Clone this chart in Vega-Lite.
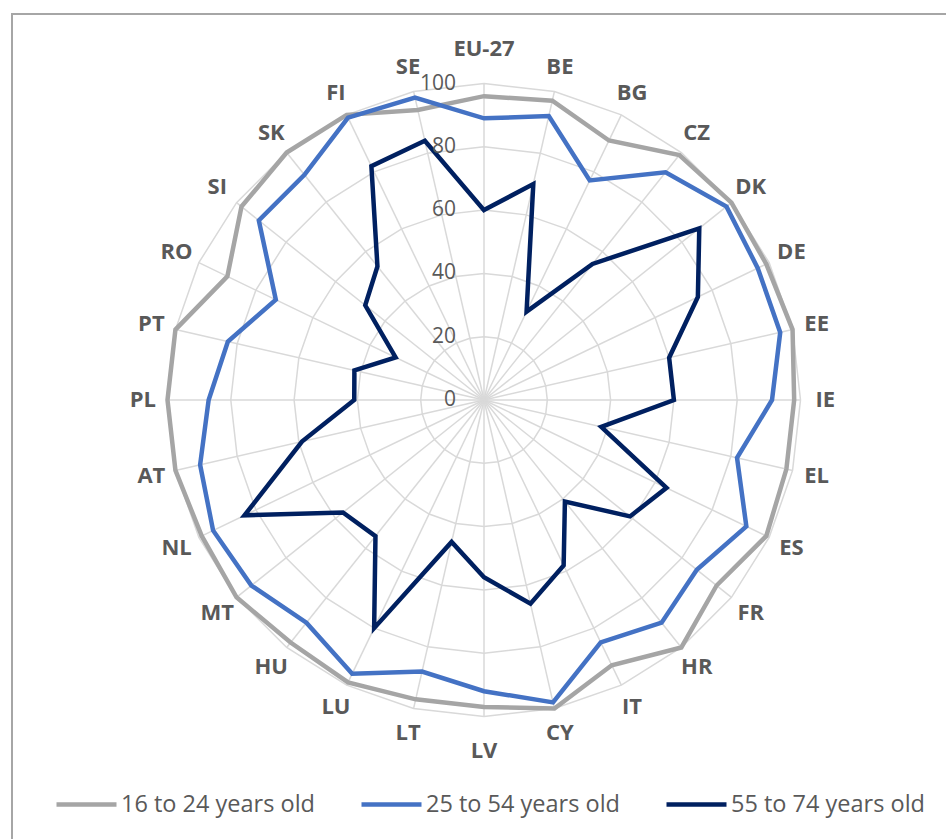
{
  "$schema": "https://vega.github.io/schema/vega-lite/v6.json",
  "width": 944,
  "height": 835,
  "autosize": {"type": "none"},
  "padding": {"left": 12, "top": 14, "right": -10, "bottom": -10},
  "background": "white",
  "config": {
    "view": {"stroke": "#a6a6a6", "strokeWidth": 2},
    "text": {"font": "Open Sans"}
  },
  "datasets": {
    "vals": [
      {"country": "EU-27", "order": 0, "age": "16 to 24 years old", "pct": 96},
      {"country": "BE", "order": 1, "age": "16 to 24 years old", "pct": 97},
      {"country": "BG", "order": 2, "age": "16 to 24 years old", "pct": 91},
      {"country": "CZ", "order": 3, "age": "16 to 24 years old", "pct": 99},
      {"country": "DK", "order": 4, "age": "16 to 24 years old", "pct": 100},
      {"country": "DE", "order": 5, "age": "16 to 24 years old", "pct": 99},
      {"country": "EE", "order": 6, "age": "16 to 24 years old", "pct": 100},
      {"country": "IE", "order": 7, "age": "16 to 24 years old", "pct": 98},
      {"country": "EL", "order": 8, "age": "16 to 24 years old", "pct": 98},
      {"country": "ES", "order": 9, "age": "16 to 24 years old", "pct": 99},
      {"country": "FR", "order": 10, "age": "16 to 24 years old", "pct": 94},
      {"country": "HR", "order": 11, "age": "16 to 24 years old", "pct": 100},
      {"country": "IT", "order": 12, "age": "16 to 24 years old", "pct": 93},
      {"country": "CY", "order": 13, "age": "16 to 24 years old", "pct": 100},
      {"country": "LV", "order": 14, "age": "16 to 24 years old", "pct": 97},
      {"country": "LT", "order": 15, "age": "16 to 24 years old", "pct": 97},
      {"country": "LU", "order": 16, "age": "16 to 24 years old", "pct": 99},
      {"country": "HU", "order": 17, "age": "16 to 24 years old", "pct": 98},
      {"country": "MT", "order": 18, "age": "16 to 24 years old", "pct": 100},
      {"country": "NL", "order": 19, "age": "16 to 24 years old", "pct": 99},
      {"country": "AT", "order": 20, "age": "16 to 24 years old", "pct": 100},
      {"country": "PL", "order": 21, "age": "16 to 24 years old", "pct": 100},
      {"country": "PT", "order": 22, "age": "16 to 24 years old", "pct": 100},
      {"country": "RO", "order": 23, "age": "16 to 24 years old", "pct": 90},
      {"country": "SI", "order": 24, "age": "16 to 24 years old", "pct": 98},
      {"country": "SK", "order": 25, "age": "16 to 24 years old", "pct": 100},
      {"country": "FI", "order": 26, "age": "16 to 24 years old", "pct": 100},
      {"country": "SE", "order": 27, "age": "16 to 24 years old", "pct": 94},
      {"country": "EU-27", "order": 0, "age": "25 to 54 years old", "pct": 89},
      {"country": "BE", "order": 1, "age": "25 to 54 years old", "pct": 92},
      {"country": "BG", "order": 2, "age": "25 to 54 years old", "pct": 77},
      {"country": "CZ", "order": 3, "age": "25 to 54 years old", "pct": 92},
      {"country": "DK", "order": 4, "age": "25 to 54 years old", "pct": 98},
      {"country": "DE", "order": 5, "age": "25 to 54 years old", "pct": 96},
      {"country": "EE", "order": 6, "age": "25 to 54 years old", "pct": 96},
      {"country": "IE", "order": 7, "age": "25 to 54 years old", "pct": 91},
      {"country": "EL", "order": 8, "age": "25 to 54 years old", "pct": 82},
      {"country": "ES", "order": 9, "age": "25 to 54 years old", "pct": 92},
      {"country": "FR", "order": 10, "age": "25 to 54 years old", "pct": 86},
      {"country": "HR", "order": 11, "age": "25 to 54 years old", "pct": 90},
      {"country": "IT", "order": 12, "age": "25 to 54 years old", "pct": 85},
      {"country": "CY", "order": 13, "age": "25 to 54 years old", "pct": 98},
      {"country": "LV", "order": 14, "age": "25 to 54 years old", "pct": 92},
      {"country": "LT", "order": 15, "age": "25 to 54 years old", "pct": 88},
      {"country": "LU", "order": 16, "age": "25 to 54 years old", "pct": 96},
      {"country": "HU", "order": 17, "age": "25 to 54 years old", "pct": 90},
      {"country": "MT", "order": 18, "age": "25 to 54 years old", "pct": 94},
      {"country": "NL", "order": 19, "age": "25 to 54 years old", "pct": 95},
      {"country": "AT", "order": 20, "age": "25 to 54 years old", "pct": 92},
      {"country": "PL", "order": 21, "age": "25 to 54 years old", "pct": 87},
      {"country": "PT", "order": 22, "age": "25 to 54 years old", "pct": 83},
      {"country": "RO", "order": 23, "age": "25 to 54 years old", "pct": 73},
      {"country": "SI", "order": 24, "age": "25 to 54 years old", "pct": 91},
      {"country": "SK", "order": 25, "age": "25 to 54 years old", "pct": 91},
      {"country": "FI", "order": 26, "age": "25 to 54 years old", "pct": 99},
      {"country": "SE", "order": 27, "age": "25 to 54 years old", "pct": 98},
      {"country": "EU-27", "order": 0, "age": "55 to 74 years old", "pct": 60},
      {"country": "BE", "order": 1, "age": "55 to 74 years old", "pct": 70},
      {"country": "BG", "order": 2, "age": "55 to 74 years old", "pct": 31},
      {"country": "CZ", "order": 3, "age": "55 to 74 years old", "pct": 55},
      {"country": "DK", "order": 4, "age": "55 to 74 years old", "pct": 87},
      {"country": "DE", "order": 5, "age": "55 to 74 years old", "pct": 75},
      {"country": "EE", "order": 6, "age": "55 to 74 years old", "pct": 60},
      {"country": "IE", "order": 7, "age": "55 to 74 years old", "pct": 60},
      {"country": "EL", "order": 8, "age": "55 to 74 years old", "pct": 38},
      {"country": "ES", "order": 9, "age": "55 to 74 years old", "pct": 64},
      {"country": "FR", "order": 10, "age": "55 to 74 years old", "pct": 59},
      {"country": "HR", "order": 11, "age": "55 to 74 years old", "pct": 41},
      {"country": "IT", "order": 12, "age": "55 to 74 years old", "pct": 58},
      {"country": "CY", "order": 13, "age": "55 to 74 years old", "pct": 66},
      {"country": "LV", "order": 14, "age": "55 to 74 years old", "pct": 56},
      {"country": "LT", "order": 15, "age": "55 to 74 years old", "pct": 46},
      {"country": "LU", "order": 16, "age": "55 to 74 years old", "pct": 80},
      {"country": "HU", "order": 17, "age": "55 to 74 years old", "pct": 55},
      {"country": "MT", "order": 18, "age": "55 to 74 years old", "pct": 57},
      {"country": "NL", "order": 19, "age": "55 to 74 years old", "pct": 84},
      {"country": "AT", "order": 20, "age": "55 to 74 years old", "pct": 59},
      {"country": "PL", "order": 21, "age": "55 to 74 years old", "pct": 41},
      {"country": "PT", "order": 22, "age": "55 to 74 years old", "pct": 42},
      {"country": "RO", "order": 23, "age": "55 to 74 years old", "pct": 31},
      {"country": "SI", "order": 24, "age": "55 to 74 years old", "pct": 48},
      {"country": "SK", "order": 25, "age": "55 to 74 years old", "pct": 54},
      {"country": "FI", "order": 26, "age": "55 to 74 years old", "pct": 82},
      {"country": "SE", "order": 27, "age": "55 to 74 years old", "pct": 84}
    ],
    "ticks": [
      {"tick": 0}, {"tick": 20}, {"tick": 40}, {"tick": 60}, {"tick": 80}, {"tick": 100}
    ]
  },
  "layer": [
    {
      "data": {"name": "vals"},
      "transform": [
        {"filter": "datum.age == '16 to 24 years old'"},
        {"calculate": "[20, 40, 60, 80, 100]", "as": "lev"},
        {"flatten": ["lev"]},
        {"calculate": "datum.order * 2 * PI / 28", "as": "ang"},
        {"calculate": "datum.lev * sin(datum.ang)", "as": "gx"},
        {"calculate": "datum.lev * cos(datum.ang)", "as": "gy"}
      ],
      "mark": {"type": "line", "interpolate": "linear-closed", "stroke": "#d9d9d9", "strokeWidth": 1.5},
      "encoding": {
        "x": {"field": "gx", "type": "quantitative", "scale": {"domain": [-149.13, 149.13], "nice": false, "zero": false}, "axis": null},
        "y": {"field": "gy", "type": "quantitative", "scale": {"domain": [-141.86, 121.96], "nice": false, "zero": false}, "axis": null},
        "detail": {"field": "lev", "type": "nominal"},
        "order": {"field": "order", "type": "quantitative"}
      }
    },
    {
      "data": {"name": "vals"},
      "transform": [
        {"filter": "datum.age == '16 to 24 years old'"},
        {"calculate": "datum.order * 2 * PI / 28", "as": "ang"},
        {"calculate": "100 * sin(datum.ang)", "as": "sx"},
        {"calculate": "100 * cos(datum.ang)", "as": "sy"},
        {"calculate": "0", "as": "origin"}
      ],
      "mark": {"type": "rule", "stroke": "#d9d9d9", "strokeWidth": 1.5},
      "encoding": {
        "x": {"field": "origin", "type": "quantitative"},
        "y": {"field": "origin", "type": "quantitative"},
        "x2": {"field": "sx"},
        "y2": {"field": "sy"}
      }
    },
    {
      "data": {"name": "vals"},
      "transform": [
        {"calculate": "datum.order * 2 * PI / 28", "as": "ang"},
        {"calculate": "datum.pct * sin(datum.ang)", "as": "px"},
        {"calculate": "datum.pct * cos(datum.ang)", "as": "py"}
      ],
      "mark": {"type": "line", "interpolate": "linear-closed", "strokeWidth": 4.5, "strokeJoin": "miter"},
      "encoding": {
        "x": {"field": "px", "type": "quantitative"},
        "y": {"field": "py", "type": "quantitative"},
        "order": {"field": "order", "type": "quantitative"},
        "color": {
          "field": "age",
          "type": "nominal",
          "scale": {"domain": ["16 to 24 years old", "25 to 54 years old", "55 to 74 years old"], "range": ["#a5a5a5", "#4472c4", "#002060"]},
          "legend": {
            "orient": "none",
            "legendX": 42,
            "legendY": 758,
            "direction": "horizontal",
            "title": null,
            "symbolType": "stroke",
            "symbolSize": 3600,
            "symbolStrokeWidth": 4.5,
            "labelFont": "Open Sans",
            "labelFontSize": 23.5,
            "labelColor": "#595959",
            "labelOffset": 2,
            "columnPadding": 37,
            "labelLimit": 400
          }
        }
      }
    },
    {
      "data": {"name": "vals"},
      "transform": [
        {"filter": "datum.age == '16 to 24 years old'"},
        {"calculate": "datum.order * 2 * PI / 28", "as": "ang"},
        {"calculate": "datum.order % 14 == 0 ? 111 : 107.8", "as": "lr"},
        {"calculate": "datum.lr * sin(datum.ang)", "as": "lx"},
        {"calculate": "datum.lr * cos(datum.ang)", "as": "ly"}
      ],
      "mark": {"type": "text", "font": "Open Sans", "fontWeight": "bold", "fontSize": 22, "color": "#595959", "align": "center", "baseline": "middle"},
      "encoding": {
        "x": {"field": "lx", "type": "quantitative"},
        "y": {"field": "ly", "type": "quantitative"},
        "text": {"field": "country", "type": "nominal"}
      }
    },
    {
      "data": {"name": "ticks"},
      "transform": [
        {"calculate": "0", "as": "origin"}
      ],
      "mark": {"type": "text", "font": "Open Sans", "fontSize": 21, "color": "#595959", "align": "right", "baseline": "middle", "dx": -28},
      "encoding": {
        "x": {"field": "origin", "type": "quantitative"},
        "y": {"field": "tick", "type": "quantitative"},
        "text": {"field": "tick", "type": "quantitative"}
      }
    }
  ]
}
